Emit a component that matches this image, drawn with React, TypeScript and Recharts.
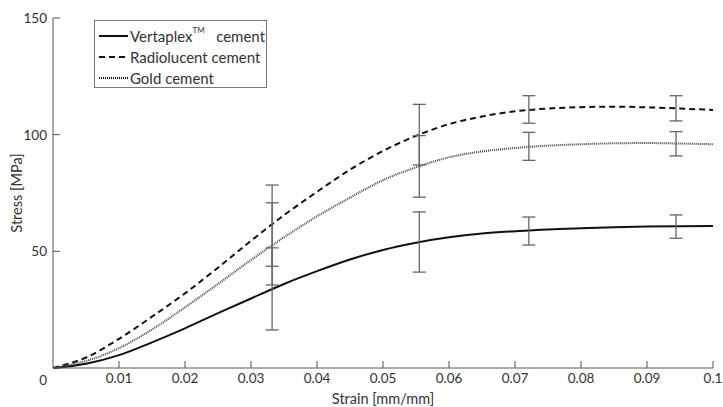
import { ComposedChart, Line, Scatter, ErrorBar, XAxis, YAxis, Label } from "recharts";

const strain = [0, 0.005, 0.01, 0.015, 0.02, 0.025, 0.03, 0.035, 0.04, 0.045, 0.05, 0.055, 0.06, 0.065, 0.07, 0.075, 0.08, 0.085, 0.09, 0.095, 0.1];
const vertaplex = [0, 1.8, 5.5, 11, 17, 23.5, 29.8, 36, 41.5, 46.5, 50.6, 53.7, 56, 57.6, 58.6, 59.4, 59.9, 60.3, 60.6, 60.8, 60.9];
const radiolucent = [0, 4.5, 12.5, 22, 32, 43, 54.5, 65.5, 75.5, 85, 93, 99.5, 104.5, 107.8, 110, 111.2, 111.8, 112, 111.7, 111.2, 110.6];
const gold = [0, 3, 8.5, 16.5, 26, 36, 46.3, 56, 65, 73, 80.5, 86, 90.3, 92.8, 94.3, 95.3, 95.9, 96.3, 96.4, 96.2, 95.9];

// measured points with standard deviation
const errStrain = [0.0332, 0.0555, 0.0721, 0.0944];
const vertaplexMean = [33.9, 54, 58.7, 60.6];
const vertaplexSd = [17.6, 12.9, 6, 5];
const radiolucentMean = [61, 100, 110.8, 111.3];
const radiolucentSd = [17.4, 13, 5.9, 5.4];
const goldMean = [53.2, 86.4, 95, 96.1];
const goldSd = [17.6, 13.2, 6, 5.2];

const xTicks = [0.01, 0.02, 0.03, 0.04, 0.05, 0.06, 0.07, 0.08, 0.09, 0.1];
const yTicks = [0, 50, 100, 150];

const rows = strain.map((x, i) => ({
  x,
  vertaplex: vertaplex[i],
  radiolucent: radiolucent[i],
  gold: gold[i],
}));

const errRows = (mean: number[], sd: number[]) =>
  errStrain.map((x, i) => ({ x, y: mean[i], err: sd[i] }));

const FONT = "Lato, 'Open Sans', sans-serif";
const TEXT = "#333";
const AXIS = "#555";

const YTick = ({ x, y, payload }: any) => (
  <text
    x={x}
    y={y + (payload.value === 0 ? 12 : 0)}
    textAnchor="end"
    dominantBaseline="central"
    fill={TEXT}
    fontSize={13.5}
    fontFamily={FONT}
  >
    {payload.value}
  </text>
);

const NoDot = () => <g />;

function LegendSample({ dash, width }: { dash?: string; width: number }) {
  return (
    <svg width={30} height={10} style={{ display: "block", marginRight: 1 }}>
      <line x1={0} y1={5} x2={29} y2={5} stroke="#111" strokeWidth={width} strokeDasharray={dash} />
    </svg>
  );
}

export default function App() {
  const item = { display: "flex", alignItems: "center", height: 21 } as const;
  return (
    <div style={{ position: "relative", width: 723, height: 407, fontFamily: FONT }}>
      <style>{`body{margin:0}`}</style>
      <ComposedChart width={723} height={407} data={rows} margin={{ top: 18, right: 10, bottom: 3, left: 13 }}>
        <XAxis
          type="number"
          dataKey="x"
          domain={[0, 0.1]}
          ticks={xTicks}
          allowDataOverflow
          stroke={AXIS}
          tickSize={-7}
          tickMargin={12}
          height={36}
          tick={{ fill: TEXT, fontSize: 13.5, fontFamily: FONT }}
        >
          <Label value="Strain [mm/mm]" position="insideBottom" offset={0} fill={TEXT} fontSize={14.5} fontFamily={FONT} />
        </XAxis>
        <YAxis
          type="number"
          domain={[0, 150]}
          ticks={yTicks}
          width={40}
          stroke={AXIS}
          tickSize={-7}
          tickMargin={13}
          tick={<YTick />}
        >
          <Label
            value="Stress [MPa]"
            angle={-90}
            position="insideLeft"
            offset={4}
            fill={TEXT}
            fontSize={14.5}
            fontFamily={FONT}
            style={{ textAnchor: "middle" }}
          />
        </YAxis>
        <Line type="monotone" dataKey="vertaplex" stroke="#111" strokeWidth={2} dot={false} isAnimationActive={false} />
        <Line type="monotone" dataKey="radiolucent" stroke="#111" strokeWidth={2} strokeDasharray="6 4" dot={false} isAnimationActive={false} />
        <Line type="monotone" dataKey="gold" stroke="#444" strokeWidth={2} strokeDasharray="1 1" dot={false} isAnimationActive={false} />
        {[
          errRows(vertaplexMean, vertaplexSd),
          errRows(radiolucentMean, radiolucentSd),
          errRows(goldMean, goldSd),
        ].map((d, i) => (
          <Scatter key={i} data={d} dataKey="y" shape={<NoDot />} isAnimationActive={false}>
            <ErrorBar dataKey="err" direction="y" width={6.5} stroke="#666" strokeWidth={1.3} isAnimationActive={false} />
          </Scatter>
        ))}
      </ComposedChart>
      <div
        style={{
          position: "absolute",
          left: 94,
          top: 20,
          width: 173,
          height: 68,
          boxSizing: "border-box",
          border: "1px solid #777",
          background: "#fff",
          padding: "4px 0 0 4px",
          fontSize: 15,
          color: TEXT,
        }}
      >
        <div style={item}>
          <LegendSample width={2} />
          <span>
            Vertaplex<sup style={{ fontSize: 8, position: "relative", top: -3 }}>TM</sup>&nbsp;&nbsp; cement
          </span>
        </div>
        <div style={item}>
          <LegendSample width={2} dash="6 4" />
          <span>Radiolucent cement</span>
        </div>
        <div style={item}>
          <LegendSample width={2} dash="1 1" />
          <span>Gold cement</span>
        </div>
      </div>
    </div>
  );
}
